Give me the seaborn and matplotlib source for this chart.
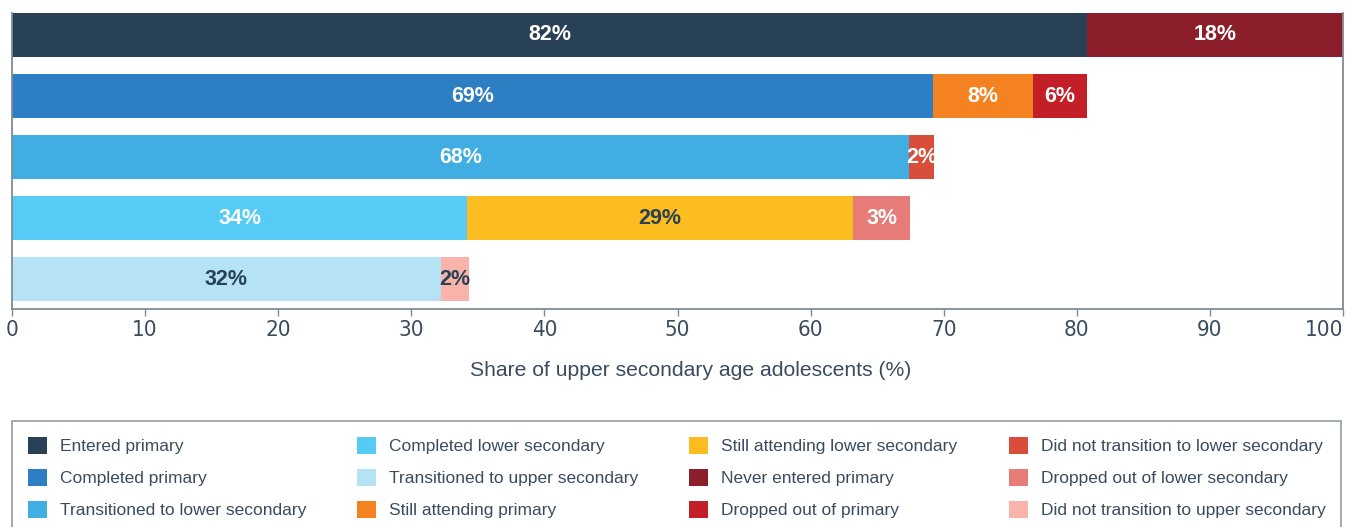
import matplotlib.pyplot as plt
import matplotlib.font_manager as fm
import matplotlib.transforms as mtransforms
import pandas as pd
import seaborn as sns
from matplotlib.patches import Patch

rows = ['r1', 'r2', 'r3', 'r4', 'r5']

# segments per row (left to right); None where a row has no such segment
seg1_names = ['Entered primary', 'Completed primary', 'Transitioned to lower secondary',
              'Completed lower secondary', 'Transitioned to upper secondary']
seg1_values = [80.8, 69.2, 67.4, 34.2, 32.2]
seg1_labels = ['82%', '69%', '68%', '34%', '32%']

seg2_names = ['Never entered primary', 'Still attending primary', 'Did not transition to lower secondary',
              'Still attending lower secondary', 'Did not transition to upper secondary']
seg2_values = [19.2, 7.5, 1.9, 29.0, 2.1]
seg2_labels = ['18%', '8%', '2%', '29%', '2%']

seg3_names = [None, 'Dropped out of primary', None, 'Dropped out of lower secondary', None]
seg3_values = [0, 4.1, 0, 4.3, 0]
seg3_labels = [None, '6%', None, '3%', None]

colors = {
    'Entered primary': '#284157',
    'Completed primary': '#2e7ec4',
    'Transitioned to lower secondary': '#40aee2',
    'Completed lower secondary': '#55cbf5',
    'Transitioned to upper secondary': '#b5e2f5',
    'Still attending primary': '#f58220',
    'Still attending lower secondary': '#fbbd1f',
    'Never entered primary': '#8b1e2a',
    'Dropped out of primary': '#c21f27',
    'Did not transition to lower secondary': '#d94e3a',
    'Dropped out of lower secondary': '#e77b78',
    'Did not transition to upper secondary': '#f9b3ab',
}
dark_text = ['Still attending lower secondary', 'Transitioned to upper secondary',
             'Did not transition to upper secondary']

legend_order = ['Entered primary', 'Completed primary', 'Transitioned to lower secondary',
                'Completed lower secondary', 'Transitioned to upper secondary', 'Still attending primary',
                'Still attending lower secondary', 'Never entered primary', 'Dropped out of primary',
                'Did not transition to lower secondary', 'Dropped out of lower secondary',
                'Did not transition to upper secondary']

navy = '#3b4b5f'
grey = '#808b97'

sns.set_style('white')
plt.rcParams['font.family'] = ['Liberation Sans', 'DejaVu Sans']

# look for an upright, regular-weight narrow face for the tick numbers
narrow = None
best = 99
for f in fm.fontManager.ttflist:
    is_narrow = 'Narrow' in f.name or 'Condensed' in f.name or f.stretch in ('condensed', 'semi-condensed')
    if not is_narrow or f.style != 'normal' or f.weight not in (400, 'normal', 'regular', 'book'):
        continue
    rank = 0 if f.name == 'Liberation Sans Narrow' else 1
    if rank < best:
        best = rank
        narrow = fm.FontProperties(fname=f.fname)

fig = plt.figure(figsize=(13.57, 5.27), dpi=100)
ax = fig.add_axes([12 / 1357, 1 - 309 / 527, 1331 / 1357, 296 / 527])

layers = [(seg1_names, seg1_values, seg1_labels),
          (seg2_names, seg2_values, seg2_labels),
          (seg3_names, seg3_values, seg3_labels)]

# cumulative ends for each layer, drawn from the longest one back
ends = []
running = [0] * len(rows)
for names, vals, labs in layers:
    running = [r + v for r, v in zip(running, vals)]
    ends.append(list(running))

for k in [2, 1, 0]:
    names = layers[k][0]
    df = pd.DataFrame({'row': rows, 'end': ends[k], 'name': names})
    df = df[df['name'].notna()]
    pal = {r: colors[n] for r, n in zip(df['row'], df['name'])}
    sns.barplot(data=df, x='end', y='row', hue='row', palette=pal, order=rows,
                orient='h', width=0.72, saturation=1, linewidth=0, legend=False, ax=ax)

# percentage labels at segment centres
for k, (names, vals, labs) in enumerate(layers):
    for i, row in enumerate(rows):
        if names[i] is None:
            continue
        start = ends[k][i] - vals[i]
        c = '#284157' if names[i] in dark_text else 'white'
        ax.text(start + vals[i] / 2, i, labs[i], ha='center', va='center', color=c,
                fontsize=15.5, fontweight='bold')

ax.set_xlim(0, 100)
ax.set_ylim(4.49, -0.36)
ax.set_yticks([])
ax.set_ylabel('')
ax.set_xticks(range(0, 101, 10))
ax.set_xlabel('Share of upper secondary age adolescents (%)', fontsize=15.2, color=navy, labelpad=15)
ax.xaxis.label.set_x(0.51)
ticklabs = ax.get_xticklabels()
for lab in ticklabs:
    if narrow is not None:
        lab.set_fontproperties(narrow)
        lab.set_fontsize(16)
    else:
        lab.set_fontsize(13)
    lab.set_color(navy)
# keep the last number inside the picture
last = ticklabs[-1]
last.set_horizontalalignment('right')
last.set_transform(last.get_transform() + mtransforms.ScaledTranslation(0.115, 0, fig.dpi_scale_trans))
ax.tick_params(axis='x', length=5, width=1, color=grey, pad=3, bottom=True)
ax.spines['top'].set_visible(False)
for s in ['left', 'right', 'bottom']:
    ax.spines[s].set_color(grey)
    ax.spines[s].set_linewidth(1.3)

handles = [Patch(facecolor=colors[n], edgecolor='none', label=n) for n in legend_order]
leg = fig.legend(handles=handles, loc='upper left', ncol=4, mode='expand',
                 bbox_to_anchor=(12 / 1357, 1 - 421 / 527, 1329 / 1357, 0),
                 frameon=True, fancybox=False, edgecolor=grey, fontsize=12.5,
                 handlelength=1.1, handleheight=1.2, handletextpad=0.75,
                 labelspacing=0.82, borderpad=0.9, borderaxespad=0)
leg.get_frame().set_linewidth(1.3)
for t in leg.get_texts():
    t.set_color(navy)

fig.savefig('out.png', dpi=100)
